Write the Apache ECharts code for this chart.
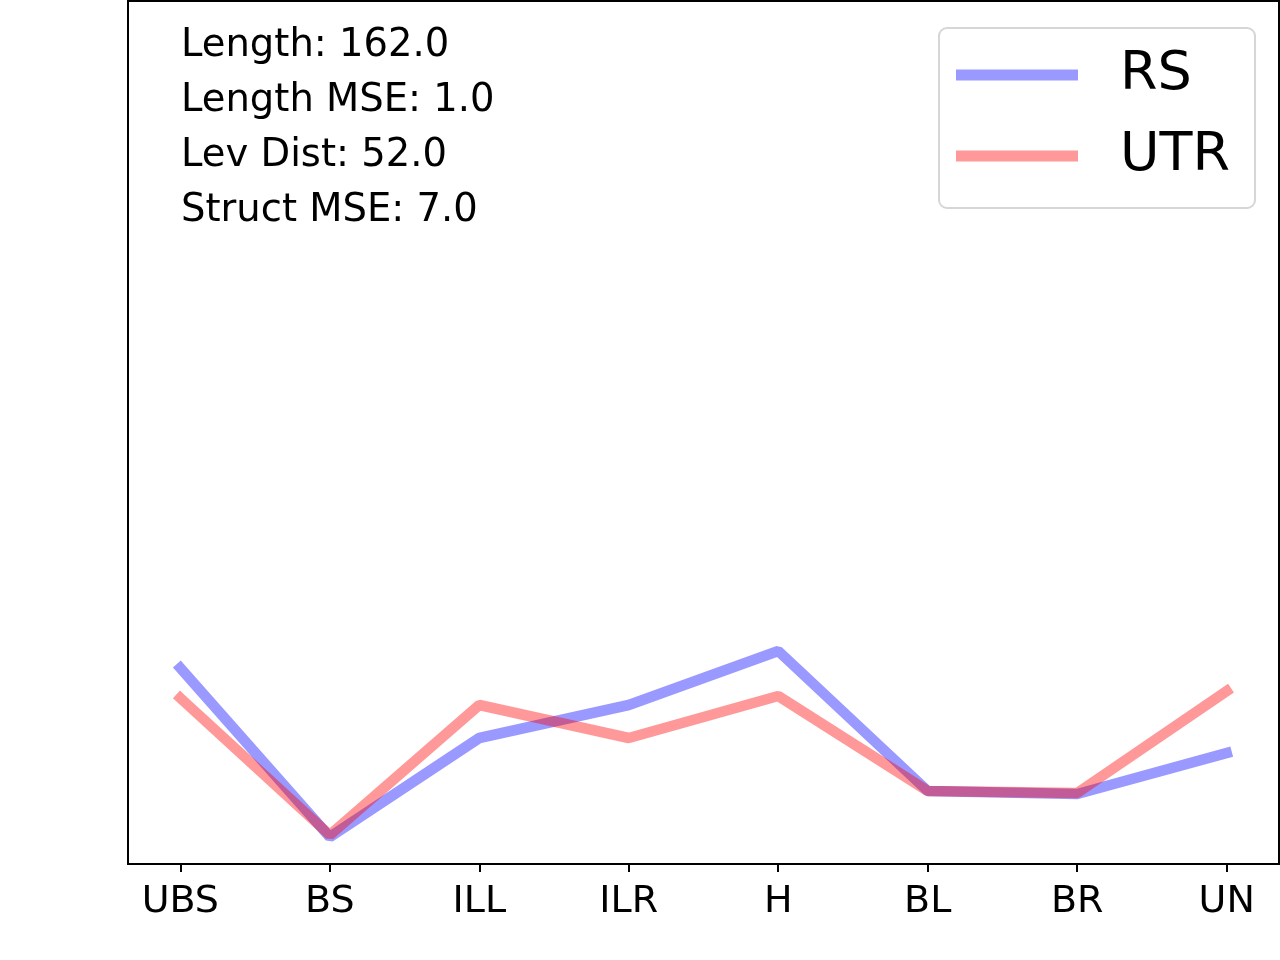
<!DOCTYPE html>
<html>
<head>
<meta charset="utf-8">
<script src="https://cdn.jsdelivr.net/npm/echarts@6/dist/echarts.min.js"></script>
<style>
  html, body { margin: 0; padding: 0; background: #fff; }
  #chart { width: 1280px; height: 960px; }
</style>
</head>
<body>
<div id="chart"></div>
<script>
const categories = ['UBS', 'BS', 'ILL', 'ILR', 'H', 'BL', 'BR', 'UN']
const rsValues = [1.96, 0.27, 1.26, 1.59, 2.13, 0.73, 0.70, 1.11]
const utrValues = [1.66, 0.29, 1.59, 1.26, 1.68, 0.73, 0.71, 1.73]
const notes = ['Length: 162.0', 'Length MSE: 1.0', 'Lev Dist: 52.0', 'Struct MSE: 7.0']

const FONT = 'DejaVu Sans'
const tickPos = categories.map((c, i) => i)
const toPairs = vals => vals.map((v, i) => [i, v])

const myChart = echarts.init(document.getElementById('chart'))

myChart.setOption({
  animation: false,
  grid: {
    left: 128, right: 1, top: 1, bottom: 96,
    show: true, borderColor: '#000', borderWidth: 2
  },
  xAxis: {
    type: 'value',
    min: -0.35,
    max: 7.35,
    splitLine: { show: false },
    axisLine: { show: true, lineStyle: { color: '#000', width: 2 } },
    axisTick: { show: true, customValues: tickPos, length: 8, lineStyle: { color: '#000', width: 2 } },
    axisLabel: {
      customValues: tickPos,
      formatter: v => categories[Math.round(v)],
      color: '#000', fontFamily: FONT, fontSize: 38, margin: 19
    }
  },
  yAxis: {
    type: 'value',
    min: 0,
    max: 8.63,
    splitLine: { show: false },
    axisLine: { show: false },
    axisTick: { show: false },
    axisLabel: { show: false }
  },
  legend: {
    orient: 'vertical',
    left: 939,
    top: 28,
    icon: 'rect',
    itemWidth: 122,
    itemHeight: 11,
    itemGap: 25,
    padding: [19, 25, 24, 17],
    borderColor: '#d6d6d6',
    borderWidth: 2,
    borderRadius: 8,
    backgroundColor: '#fff',
    textStyle: { fontFamily: FONT, fontSize: 54, lineHeight: 56, color: '#000', padding: [0, 0, 0, 37] },
    data: ['RS', 'UTR']
  },
  graphic: notes.map((t, i) => ({
    type: 'text',
    left: 181,
    top: 46 + i * 55.3 - 20,
    style: { text: t, font: '38.5px "DejaVu Sans"', fill: '#000' }
  })),
  series: [
    {
      name: 'RS',
      type: 'line',
      data: toPairs(rsValues),
      symbol: 'none',
      color: 'rgba(0,0,255,0.4)',
      lineStyle: { width: 10.5, cap: 'square' }
    },
    {
      name: 'UTR',
      type: 'line',
      data: toPairs(utrValues),
      symbol: 'none',
      color: 'rgba(255,0,0,0.4)',
      lineStyle: { width: 10.5, cap: 'square' }
    }
  ]
})
</script>
</body>
</html>
